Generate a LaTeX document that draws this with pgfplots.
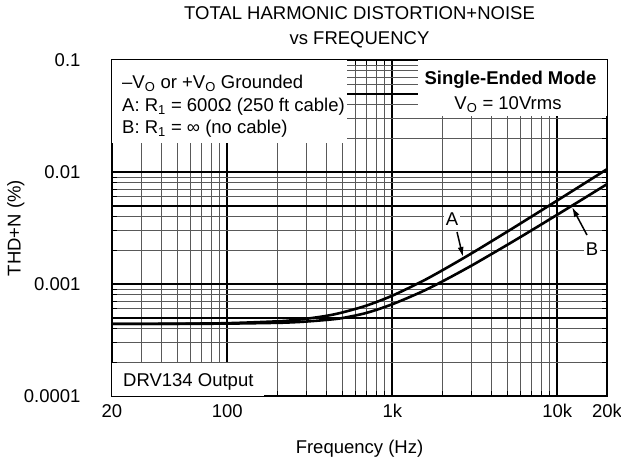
\documentclass[border=0pt]{standalone}
\usepackage{fontspec}
\setmainfont{Liberation Sans}
\usepackage{pgfplots}
\pgfplotsset{compat=1.18}
\usetikzlibrary{arrows.meta}
\pgfplotsset{
  layers/mylayers/.define layer set={axis background,axis grid,boxlayer,axis ticks,main,axis lines,axis tick labels,axis descriptions,axis foreground}{},
}
\begin{document}
\begin{tikzpicture}[font=\fontsize{18.5}{22}\selectfont]
\begin{axis}[
  set layers=mylayers,
  scale only axis, width=495pt, height=336pt,
  xmode=log, ymode=log,
  xmin=20, xmax=20000, ymin=0.0001, ymax=0.1,
  xtick={20,100,1000,10000,20000},
  xticklabels={20,100,1k,10k,20k},
  minor xtick={30,40,50,60,70,80,90,200,300,400,500,600,700,800,900,2000,3000,4000,5000,6000,7000,8000,9000},
  ytick={0.0001,0.001,0.01,0.1},
  yticklabels={0.0001,0.001,0.01,0.1},
  minor ytick={0.0002,0.0003,0.0004,0.0006,0.0007,0.0008,0.0009,0.002,0.003,0.004,0.006,0.007,0.008,0.009,0.02,0.03,0.04,0.06,0.07,0.08,0.09},
  extra y ticks={0.0005,0.005,0.05},
  extra y tick labels={},
  extra y tick style={grid=major},
  grid=both,
  major grid style={black, line width=2pt},
  minor grid style={black!65, line width=1pt},
  tick style={black, line width=1pt},
  major tick length=9pt, minor tick length=5pt,
  tick align=inside,
  axis line style={line width=2.5pt},
  xticklabel style={yshift=-5pt},
  yticklabel style={xshift=-28pt},
  clip=false,
]
% white boxes (under ticks, over grid)
\fill[white, on layer=boxlayer] (rel axis cs:0,1) rectangle (rel axis cs:0.4747,0.753);
\fill[white, on layer=boxlayer] (rel axis cs:0.618,1) rectangle (rel axis cs:1,0.8333);
\fill[white, on layer=boxlayer] (rel axis cs:0,0) rectangle (rel axis cs:0.307,0.0982);

\addplot[line width=2.6pt, smooth] coordinates {
(20,0.00044) (50,0.000442) (100,0.000447) (200,0.000464) (250,0.000475) (300,0.000489) (400,0.00052) (500,0.000558) (700,0.000643) (1000,0.000787) (1500,0.001048) (2000,0.00132) (3000,0.001866) (5000,0.002949) (7000,0.004012) (10000,0.005572) (15000,0.008112) (20000,0.0106)
};
\addplot[line width=2.6pt, smooth] coordinates {
(20,0.00044) (50,0.000441) (100,0.000443) (200,0.00045) (250,0.000455) (300,0.000462) (400,0.000478) (500,0.000497) (700,0.000553) (1000,0.00066) (1500,0.00085) (2000,0.00105) (3000,0.001452) (5000,0.002247) (7000,0.003022) (10000,0.00416) (15000,0.005998) (20000,0.00779)
};

% legend texts
\node[anchor=base west, inner sep=0] at ([xshift=10pt,yshift=-28.3pt]rel axis cs:0,1) {–V\textsubscript{O} or +V\textsubscript{O} Grounded};
\node[anchor=base west, inner sep=0] at ([xshift=10pt,yshift=-51.6pt]rel axis cs:0,1) {A: R\textsubscript{1} = 600Ω (250 ft cable)};
\node[anchor=base west, inner sep=0] at ([xshift=10pt,yshift=-73.3pt]rel axis cs:0,1) {B: R\textsubscript{1} = ∞ (no cable)};
\node[anchor=base, inner sep=0] at ([yshift=-25pt]rel axis cs:0.805,1) {\bfseries Single-Ended Mode};
\node[anchor=base, inner sep=0] at ([yshift=-49.6pt]rel axis cs:0.80,1) {V\textsubscript{O} = 10Vrms};
\node[anchor=base west, inner sep=0] at ([xshift=11pt,yshift=9.4pt]rel axis cs:0,0) {DRV134 Output};

% curve labels
\node[fill=white, inner sep=2pt] at (rel axis cs:0.6869,0.5268) {A};
\node[fill=white, inner sep=2pt] at (rel axis cs:0.9697,0.4375) {B};
\draw[-{Latex[length=10pt,width=6pt]}, line width=1.5pt] (rel axis cs:0.697,0.488) -- (rel axis cs:0.709,0.4137);
\draw[-{Latex[length=10pt,width=6pt]}, line width=1.5pt] (rel axis cs:0.9596,0.479) -- (rel axis cs:0.9293,0.5625);

% titles and axis labels
\node[anchor=base] at ([yshift=40.4pt]rel axis cs:0.5,1) {TOTAL HARMONIC DISTORTION+NOISE};
\node[anchor=base] at ([yshift=15.4pt]rel axis cs:0.5,1) {vs FREQUENCY};
\node[anchor=base] at ([yshift=-57.6pt]rel axis cs:0.5,0) {Frequency (Hz)};
\node[anchor=base, rotate=90] at ([xshift=-91.4pt]rel axis cs:0,0.5) {THD+N (\%)};
\end{axis}
\pgfresetboundingbox
\path[use as bounding box] (-112pt,-66pt) rectangle (509pt,396pt);
\end{tikzpicture}
\end{document}
